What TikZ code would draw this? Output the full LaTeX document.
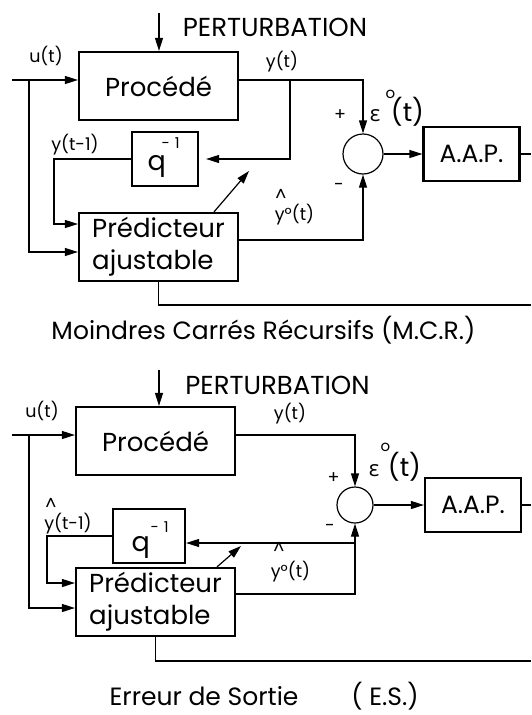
\documentclass[tikz,border=0pt]{standalone}
\usepackage{fontspec}
\setmainfont{Poppins}
\newfontfamily\grkfont{Open Sans}
\usetikzlibrary{positioning,arrows.meta}

\begin{document}
\begin{tikzpicture}[x=1pt, y=-1pt, line width=1.2pt,
  every node/.style={font=\fontsize{17.5}{20}\selectfont, inner sep=0pt},
  blk/.style={draw, line width=2.2pt, minimum width=159pt, minimum height=68pt, font=\fontsize{26}{32}\selectfont},
  qbox/.style={draw, line width=2.2pt, minimum height=54pt},
  aapbox/.style={draw, line width=2.2pt, minimum width=96pt, minimum height=54pt, font=\fontsize{25}{28}\selectfont},
  sumnode/.style={draw, circle, line width=1.2pt},
  lbl/.style={font=\fontsize{17.5}{20}\selectfont},
  qlbl/.style={font=\fontsize{27}{30}\selectfont, anchor=base west},
  sup/.style={font=\fontsize{15}{16}\selectfont, anchor=base west},
  big/.style={font=\fontsize{26}{28}\selectfont},
  ttl/.style={font=\fontsize{25}{28}\selectfont, anchor=base},
  arr/.style={-{Triangle[length=13pt,width=8pt]}}]
  \useasboundingbox (0,0) rectangle (531,715);

  % Moindres Carres Recursifs
  \node[blk] (proc1) at (158.5,86) {Procédé};
  \node[blk, align=left] (pred1) at (158.5,247) {Prédicteur\\ajustable};
  \node[qbox, minimum width=66pt] (q1) at (165,159) {};
  \node[sumnode, minimum size=40pt] (sum1) at (363,154) {};
  \node[aapbox] (aap1) at (471.5,154) {A.A.P.};
  \coordinate (pert1) at (159,13);
  \coordinate (in1) at (12,80);
  \coordinate (br1) at (29,80);
  \coordinate (tap1) at (290,80);
  \coordinate (fb1) at (54,224);
  \coordinate (adj1) at (249,171);
  \coordinate (out1) at (531,154);
  \coordinate (ret1) at (531,305);

  \draw[arr] (pert1) -- (pert1 |- proc1.north);
  \draw[arr] (in1) -- (in1 -| proc1.west);
  \draw[arr] (br1) |- ([yshift=-5pt]pred1.west);
  \draw[arr] (proc1.east |- in1) -| (sum1.north);
  \draw[arr] (tap1) |- ([xshift=7pt]q1.east);
  \draw[arr] (q1.west) -| (fb1) -- (fb1 -| pred1.west);
  \draw[arr] ([xshift=55.5pt]pred1.north) -- (adj1);
  \draw[arr] ([yshift=7pt]pred1.east) -| (sum1.south);
  \draw[arr] (sum1.east) -- (aap1.west);
  \draw (aap1.east) -- (out1);
  \draw (pred1.south) |- (ret1);

  \node[qlbl] (qa1) at (147,170) {q};
  \node[sup] (qb1) at (161,148) {-\,\,1};
  \node[big, anchor=base] (pt1) at (275,36.5) {PERTURBATION};
  \node[lbl] (u1) at (46,56) {u(t)};
  \node[lbl] (y1) at (282,62) {y(t)};
  \node[lbl] (yp1) at (75,145) {y(t-1)};
  \node[lbl] (plus1) at (340,115) {+};
  \node[lbl] (minus1) at (339,187) {-};
  \node[font=\fontsize{22}{24}\selectfont] (eps1) at (375,116) {\grkfont ε};
  \node[sup] (o1) at (385,98) {o};
  \node[big] (t1) at (407.5,112) {(t)};
  \node[lbl] (h1) at (281,195) {\textasciicircum};
  \node[lbl] (yh1) at (294.5,215) {y°(t)};
  \node[ttl] (ttl1) at (263.5,339) {Moindres Carrés Récursifs (M.C.R.)};

  % Erreur de Sortie
  \node[blk] (proc2) at (155.5,441) {Procédé};
  \node[blk, align=left] (pred2) at (155.5,602) {Prédicteur\\ajustable};
  \node[qbox, minimum width=72pt] (q2) at (149,536) {};
  \node[sumnode, minimum size=36pt] (sum2) at (355,505) {};
  \node[aapbox] (aap2) at (473,505) {A.A.P.};
  \coordinate (pert2) at (159,370);
  \coordinate (in2) at (12,435);
  \coordinate (br2) at (29,435);
  \coordinate (fb2) at (47,583);
  \coordinate (jn2) at (355,543);
  \coordinate (adj2) at (241,546);
  \coordinate (out2) at (531,505);
  \coordinate (ret2) at (531,661);

  \draw[arr] (pert2) -- (pert2 |- proc2.north);
  \draw[arr] (in2) -- (in2 -| proc2.west);
  \draw[arr] (br2) |- ([yshift=-6pt]pred2.west);
  \draw[arr] (proc2.east |- in2) -| (sum2.north);
  \draw[arr] (q2.west) -| (fb2) -- (fb2 -| pred2.west);
  \draw[arr] ([yshift=8pt]pred2.east) -| (sum2.south);
  \draw[arr] (jn2) -- (jn2 -| q2.east);
  \draw[arr] ([xshift=61.5pt]pred2.north) -- (adj2);
  \draw[arr] (sum2.east) -- (aap2.west);
  \draw (aap2.east) -- (out2);
  \draw (pred2.south) |- (ret2);

  \node[qlbl] (qa2) at (131,551) {q};
  \node[sup] (qb2) at (150,532) {-\,\,1};
  \node[big, anchor=base] (pt2) at (277.5,394) {PERTURBATION};
  \node[lbl] (u2) at (42,411) {u(t)};
  \node[lbl] (y2) at (290,414) {y(t)};
  \node[lbl] (h2a) at (51,504) {\textasciicircum};
  \node[lbl] (yp2) at (68,523.5) {y(t-1)};
  \node[lbl] (plus2) at (333.5,478) {+};
  \node[lbl] (minus2) at (330,528) {-};
  \node[font=\fontsize{22}{24}\selectfont] (eps2) at (374,471) {\grkfont ε};
  \node[sup] (o2) at (380,451) {o};
  \node[big] (t2) at (404.5,467) {(t)};
  \node[lbl] (h2) at (279,548) {\textasciicircum};
  \node[lbl] (yh2) at (290.5,572) {y°(t)};
  \node[ttl] (ttl2) at (204,705) {Erreur de Sortie};
  \node[ttl] (ttl3) at (385,705) {( E.S.)};
\end{tikzpicture}
\end{document}
